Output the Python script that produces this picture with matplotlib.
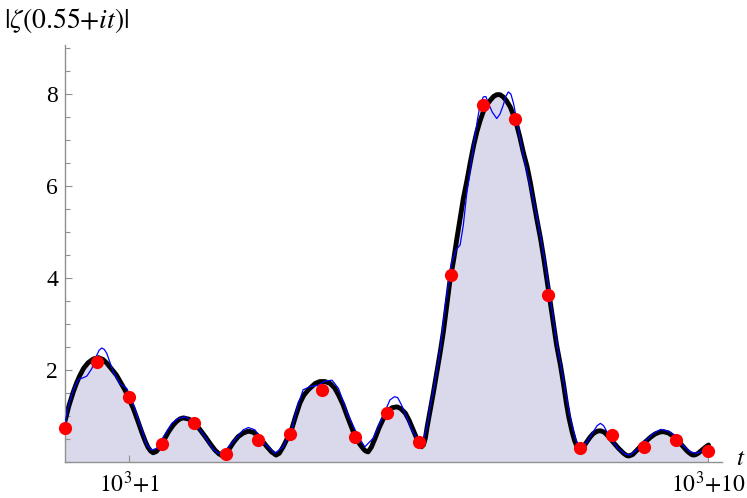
import matplotlib
matplotlib.use("Agg")
import matplotlib.pyplot as plt
from matplotlib.ticker import MultipleLocator, FixedLocator

# --- data ---
# sample points (red dots): t = 1000, 1000.5, ..., 1010
dot_t = [1000.0, 1000.5, 1001.0, 1001.5, 1002.0, 1002.5, 1003.0, 1003.5, 1004.0,
         1004.5, 1005.0, 1005.5, 1006.0, 1006.5, 1007.0, 1007.5, 1008.0, 1008.5,
         1009.0, 1009.5, 1010.0]
dot_v = [0.74, 2.17, 1.41, 0.39, 0.85, 0.17, 0.48, 0.61, 1.57,
         0.55, 1.07, 0.44, 4.07, 7.76, 7.45, 3.63, 0.30, 0.59,
         0.33, 0.48, 0.24]

# smooth reconstruction (thick black curve)
smooth_t = [1000.00, 1000.06, 1000.13, 1000.18, 1000.23, 1000.29, 1000.36, 1000.44,
            1000.52, 1000.59, 1000.65, 1000.72, 1000.80, 1000.93,
            1001.06, 1001.13, 1001.19, 1001.25, 1001.29, 1001.33, 1001.37, 1001.42,
            1001.48, 1001.54, 1001.61, 1001.68, 1001.74, 1001.79, 1001.84, 1001.93,
            1002.02, 1002.10, 1002.18, 1002.26, 1002.33, 1002.39, 1002.44, 1002.50,
            1002.56, 1002.62, 1002.69, 1002.77, 1002.85, 1002.92, 1002.98, 1003.06,
            1003.14, 1003.21, 1003.28, 1003.33, 1003.39, 1003.45, 1003.52, 1003.58,
            1003.65, 1003.71, 1003.78, 1003.89, 1003.96, 1004.04,
            1004.12, 1004.19, 1004.25, 1004.32, 1004.38, 1004.45, 1004.51, 1004.58,
            1004.64, 1004.67, 1004.71, 1004.76, 1004.82, 1004.88, 1004.95, 1005.01,
            1005.08, 1005.16, 1005.22, 1005.29, 1005.35, 1005.41, 1005.47, 1005.51,
            1005.54, 1005.57, 1005.60, 1005.63, 1005.67,
            1005.72, 1005.77, 1005.83, 1005.88, 1005.93, 1005.98, 1006.04, 1006.09,
            1006.14, 1006.19, 1006.25, 1006.30, 1006.35, 1006.40, 1006.45, 1006.50,
            1006.55, 1006.61, 1006.66, 1006.71, 1006.76, 1006.81, 1006.86, 1006.92,
            1006.97, 1007.02, 1007.07, 1007.12, 1007.18, 1007.23, 1007.28, 1007.33,
            1007.39, 1007.44, 1007.49, 1007.54, 1007.59, 1007.64, 1007.70, 1007.75,
            1007.79, 1007.83, 1007.88, 1007.92, 1007.95, 1007.99, 1008.02, 1008.06,
            1008.11, 1008.16, 1008.21, 1008.27, 1008.32, 1008.38, 1008.45, 1008.52,
            1008.60, 1008.68, 1008.73, 1008.76, 1008.82, 1008.89, 1008.95, 1009.02,
            1009.10, 1009.17, 1009.24, 1009.30, 1009.38, 1009.46, 1009.54, 1009.61,
            1009.66, 1009.70, 1009.74, 1009.77, 1009.80, 1009.84, 1009.90, 1009.95,
            1010.00]
smooth_v = [0.89, 1.22, 1.53, 1.72, 1.88, 2.04, 2.16, 2.24,
            2.27, 2.23, 2.15, 2.03, 1.89, 1.57,
            1.17, 0.90, 0.66, 0.44, 0.32, 0.24, 0.20, 0.23,
            0.33, 0.48, 0.66, 0.80, 0.89, 0.94, 0.96, 0.93,
            0.84, 0.70, 0.55, 0.39, 0.26, 0.18, 0.14, 0.18,
            0.30, 0.43, 0.55, 0.63, 0.67, 0.65, 0.59, 0.47,
            0.33, 0.22, 0.15, 0.19, 0.33, 0.50, 0.70, 0.98,
            1.28, 1.45, 1.57, 1.71, 1.75, 1.75,
            1.71, 1.61, 1.46, 1.25, 1.02, 0.77, 0.55, 0.39,
            0.28, 0.24, 0.22, 0.32, 0.52, 0.74, 0.95, 1.09,
            1.18, 1.20, 1.16, 1.06, 0.90, 0.70, 0.50, 0.39,
            0.33, 0.37, 0.52, 0.78, 1.09,
            1.47, 1.89, 2.38, 2.83, 3.37, 3.92, 4.40, 4.86,
            5.30, 5.73, 6.15, 6.53, 6.88, 7.18, 7.42, 7.62,
            7.76, 7.87, 7.95, 7.99, 7.99, 7.94, 7.86, 7.72,
            7.54, 7.33, 7.06, 6.75, 6.43, 6.09, 5.70, 5.30,
            4.86, 4.43, 3.96, 3.48, 3.01, 2.54, 2.10, 1.67,
            1.29, 0.97, 0.66, 0.46, 0.36, 0.30, 0.29, 0.34,
            0.44, 0.54, 0.62, 0.67, 0.68, 0.65, 0.55, 0.43,
            0.30, 0.19, 0.14, 0.13, 0.16, 0.26, 0.35, 0.44,
            0.54, 0.61, 0.65, 0.66, 0.63, 0.55, 0.44, 0.33,
            0.25, 0.20, 0.16, 0.15, 0.16, 0.19, 0.26, 0.32,
            0.37]

# exact |zeta| (thin blue curve)
zeta_t = [1000.00, 1000.06, 1000.13, 1000.21, 1000.28, 1000.34, 1000.42, 1000.48, 1000.53,
          1000.57, 1000.61, 1000.65, 1000.75, 1000.85, 1000.96, 1001.04, 1001.17, 1001.27,
          1001.35, 1001.43, 1001.53, 1001.66, 1001.76, 1001.87, 1002.02, 1002.18, 1002.30,
          1002.38, 1002.50, 1002.66, 1002.77, 1002.85, 1002.95, 1003.11, 1003.26,
          1003.39, 1003.52, 1003.62, 1003.70, 1003.81, 1003.94, 1004.04, 1004.15,
          1004.25, 1004.40, 1004.56, 1004.66, 1004.79, 1004.97, 1005.05, 1005.12,
          1005.17, 1005.23, 1005.39, 1005.49, 1005.57, 1005.63, 1005.67, 1005.74, 1005.83,
          1005.92, 1006.01, 1006.08, 1006.14, 1006.19, 1006.24, 1006.35, 1006.41, 1006.45,
          1006.50, 1006.54, 1006.58, 1006.64, 1006.71, 1006.76, 1006.81, 1006.85, 1006.89,
          1006.93, 1006.97, 1007.02, 1007.07,
          1007.17, 1007.34, 1007.45, 1007.55, 1007.65, 1007.76, 1007.86, 1007.94,
          1008.00, 1008.11, 1008.21, 1008.27, 1008.32, 1008.37, 1008.42, 1008.50, 1008.59,
          1008.71, 1008.78, 1008.90, 1009.02, 1009.13, 1009.26, 1009.38, 1009.48, 1009.61,
          1009.72, 1009.82, 1009.90, 1010.00]
zeta_v = [0.87, 1.25, 1.57, 1.80, 1.83, 1.87, 2.04, 2.28, 2.43,
          2.48, 2.45, 2.36, 1.96, 1.71, 1.60, 1.35, 0.80, 0.37,
          0.26, 0.30, 0.55, 0.84, 0.95, 0.98, 0.85, 0.54, 0.28,
          0.19, 0.26, 0.52, 0.70, 0.75, 0.70, 0.39, 0.19,
          0.33, 0.70, 1.24, 1.57, 1.64, 1.67, 1.76, 1.78,
          1.60, 1.02, 0.55, 0.33, 0.52, 1.09, 1.35, 1.42,
          1.40, 1.24, 0.70, 0.48, 0.48, 0.80, 1.17, 1.67, 2.43,
          3.52, 4.35, 4.62, 4.72, 5.15, 5.80, 6.89, 7.45, 7.76,
          7.94, 7.95, 7.80, 7.61, 7.47, 7.57, 7.76, 7.95, 8.05,
          8.00, 7.80, 7.44, 7.04,
          6.38, 5.30, 4.43, 3.48, 2.54, 1.67, 0.91, 0.48,
          0.30, 0.43, 0.66, 0.79, 0.84, 0.79, 0.66, 0.48, 0.30,
          0.17, 0.15, 0.28, 0.46, 0.61, 0.71, 0.67, 0.57, 0.35,
          0.22, 0.19, 0.24, 0.33]

y_major = [2, 4, 6, 8]
x_ticks = [1001, 1010]
x_ticklabels = [r'$10^3{+}1$', r'$10^3{+}10$']
title_text = r'$|\zeta(0.55{+}it)|$'
x_name = r'$t$'

# --- style ---
plt.rcParams['font.family'] = ['Liberation Serif', 'DejaVu Serif']
plt.rcParams['mathtext.fontset'] = 'stix'

W, H = 747, 498
fig = plt.figure(figsize=(W / 100, H / 100), dpi=100)
ax = fig.add_axes([65 / W, 36 / H, 657 / W, 417 / H])

ax.fill_between(smooth_t, smooth_v, 0, color='#d9d9eb', lw=0, zorder=1)
ax.plot(smooth_t, smooth_v, color='black', lw=3.5, solid_capstyle='round',
        solid_joinstyle='round', zorder=2)
ax.plot(zeta_t, zeta_v, color='#0000ff', lw=0.9, zorder=3)
ax.plot(dot_t, dot_v, 'o', color='#ff0000', ms=9.5, mec='none', zorder=4,
        clip_on=False)

ax.set_xlim(1000, 1010.21)
ax.set_ylim(0, 9.07)

for s in ['top', 'right']:
    ax.spines[s].set_visible(False)
for s in ['left', 'bottom']:
    ax.spines[s].set_color('#909090')
    ax.spines[s].set_linewidth(1.0)

ax.yaxis.set_major_locator(FixedLocator(y_major))
ax.yaxis.set_minor_locator(MultipleLocator(0.5))
ax.xaxis.set_major_locator(FixedLocator(x_ticks))
ax.set_xticklabels(x_ticklabels)
ax.tick_params(axis='both', which='major', direction='in', length=5,
               color='#909090', labelsize=17, width=0.8)
ax.tick_params(axis='y', which='minor', direction='in', length=3.5,
               color='#909090', width=0.8)
ax.tick_params(axis='y', which='major', pad=5)
ax.tick_params(axis='x', which='major', pad=6)

fig.text(4 / W, 1 - 20 / H, title_text, fontsize=20, ha='left', va='center')
fig.text(741 / W, 1 - 459 / H, x_name, fontsize=18, ha='center', va='center')

fig.savefig('out.png', dpi=100)
